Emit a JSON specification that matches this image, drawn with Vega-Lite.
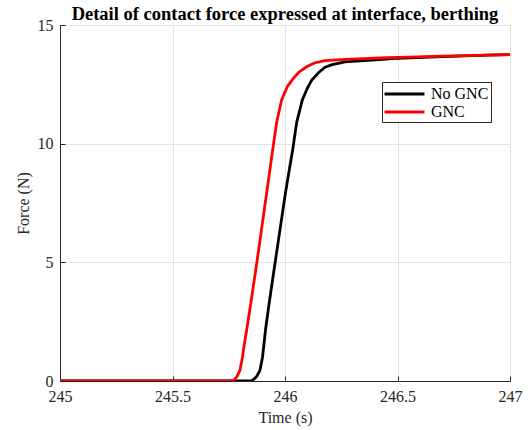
{
  "$schema": "https://vega.github.io/schema/vega-lite/v6.json",
  "autosize": {"type": "none"},
  "width": 450,
  "height": 356,
  "padding": {"left": 60, "top": 25, "right": 22, "bottom": 49},
  "background": "white",
  "config": {
    "font": "Liberation Serif",
    "view": {"stroke": "#262626", "strokeWidth": 1},
    "axis": {
      "labelFont": "Liberation Serif",
      "titleFont": "Liberation Serif",
      "labelFontSize": 16,
      "titleFontSize": 16,
      "titleFontWeight": "normal",
      "labelColor": "#262626",
      "titleColor": "#262626",
      "domainColor": "#262626",
      "tickColor": "#262626",
      "gridColor": "#e3e3e3",
      "gridWidth": 1,
      "labelFlush": false
    }
  },
  "title": {
    "text": "Detail of contact force expressed at interface, berthing",
    "font": "Liberation Serif",
    "fontSize": 18.5,
    "fontWeight": "bold",
    "color": "#000000",
    "anchor": "middle",
    "offset": -6
  },
  "data": {
    "values": [
      {"t": 245.0, "f": 0, "s": "No GNC"},
      {"t": 245.85, "f": 0, "s": "No GNC"},
      {"t": 245.862, "f": 0.08, "s": "No GNC"},
      {"t": 245.875, "f": 0.2, "s": "No GNC"},
      {"t": 245.889, "f": 0.46, "s": "No GNC"},
      {"t": 245.9, "f": 1.0, "s": "No GNC"},
      {"t": 245.914, "f": 2.2, "s": "No GNC"},
      {"t": 245.93, "f": 3.3, "s": "No GNC"},
      {"t": 245.95, "f": 4.6, "s": "No GNC"},
      {"t": 245.975, "f": 6.2, "s": "No GNC"},
      {"t": 246.0, "f": 7.8, "s": "No GNC"},
      {"t": 246.02, "f": 8.95, "s": "No GNC"},
      {"t": 246.034, "f": 9.73, "s": "No GNC"},
      {"t": 246.052, "f": 10.9, "s": "No GNC"},
      {"t": 246.077, "f": 11.84, "s": "No GNC"},
      {"t": 246.1, "f": 12.35, "s": "No GNC"},
      {"t": 246.119, "f": 12.68, "s": "No GNC"},
      {"t": 246.15, "f": 13.0, "s": "No GNC"},
      {"t": 246.178, "f": 13.22, "s": "No GNC"},
      {"t": 246.21, "f": 13.33, "s": "No GNC"},
      {"t": 246.267, "f": 13.45, "s": "No GNC"},
      {"t": 246.35, "f": 13.5, "s": "No GNC"},
      {"t": 246.42, "f": 13.54, "s": "No GNC"},
      {"t": 246.5, "f": 13.6, "s": "No GNC"},
      {"t": 246.7, "f": 13.67, "s": "No GNC"},
      {"t": 246.9, "f": 13.73, "s": "No GNC"},
      {"t": 247.0, "f": 13.75, "s": "No GNC"},
      {"t": 245.0, "f": 0, "s": "GNC"},
      {"t": 245.768, "f": 0, "s": "GNC"},
      {"t": 245.78, "f": 0.1, "s": "GNC"},
      {"t": 245.79, "f": 0.25, "s": "GNC"},
      {"t": 245.8, "f": 0.46, "s": "GNC"},
      {"t": 245.81, "f": 0.95, "s": "GNC"},
      {"t": 245.82, "f": 1.6, "s": "GNC"},
      {"t": 245.832, "f": 2.29, "s": "GNC"},
      {"t": 245.85, "f": 3.4, "s": "GNC"},
      {"t": 245.87, "f": 4.68, "s": "GNC"},
      {"t": 245.89, "f": 6.0, "s": "GNC"},
      {"t": 245.91, "f": 7.36, "s": "GNC"},
      {"t": 245.93, "f": 8.7, "s": "GNC"},
      {"t": 245.945, "f": 9.73, "s": "GNC"},
      {"t": 245.963, "f": 10.9, "s": "GNC"},
      {"t": 245.985, "f": 11.84, "s": "GNC"},
      {"t": 246.01, "f": 12.4, "s": "GNC"},
      {"t": 246.037, "f": 12.75, "s": "GNC"},
      {"t": 246.06, "f": 13.0, "s": "GNC"},
      {"t": 246.096, "f": 13.24, "s": "GNC"},
      {"t": 246.13, "f": 13.4, "s": "GNC"},
      {"t": 246.178, "f": 13.5, "s": "GNC"},
      {"t": 246.267, "f": 13.55, "s": "GNC"},
      {"t": 246.35, "f": 13.58, "s": "GNC"},
      {"t": 246.45, "f": 13.62, "s": "GNC"},
      {"t": 246.55, "f": 13.65, "s": "GNC"},
      {"t": 246.7, "f": 13.69, "s": "GNC"},
      {"t": 246.85, "f": 13.72, "s": "GNC"},
      {"t": 247.0, "f": 13.75, "s": "GNC"}
    ]
  },
  "mark": {"type": "line", "strokeWidth": 2.8, "clip": true},
  "encoding": {
    "x": {
      "field": "t",
      "type": "quantitative",
      "title": "Time (s)",
      "scale": {"domain": [245, 247], "nice": false, "zero": false},
      "axis": {"values": [245, 245.5, 246, 246.5, 247], "format": "~g", "tickSize": -5, "labelPadding": 12, "titlePadding": 5, "grid": true}
    },
    "y": {
      "field": "f",
      "type": "quantitative",
      "title": "Force (N)",
      "scale": {"domain": [0, 15], "nice": false},
      "axis": {"values": [0, 5, 10, 15], "tickSize": -5, "labelPadding": 12, "titlePadding": 6, "grid": true}
    },
    "color": {
      "field": "s",
      "type": "nominal",
      "sort": ["No GNC", "GNC"],
      "scale": {"domain": ["No GNC", "GNC"], "range": ["#000000", "#ff0000"]},
      "legend": {
        "title": null,
        "orient": "none",
        "legendX": 322,
        "legendY": 57,
        "symbolType": "M-2.35,0H2.35",
        "symbolSize": 289,
        "symbolOffset": 10.5,
        "symbolStrokeWidth": 3,
        "labelFont": "Liberation Serif",
        "labelFontSize": 16,
        "labelColor": "#000000",
        "labelOffset": 16.5,
        "rowPadding": 0,
        "padding": 2,
        "strokeColor": "#262626",
        "fillColor": "white"
      }
    }
  }
}
